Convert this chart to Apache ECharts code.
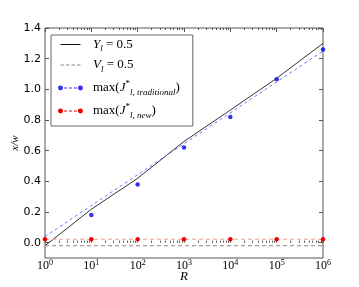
<!DOCTYPE html>
<html><head><meta charset="utf-8">
<script src="https://cdn.jsdelivr.net/npm/echarts@6/dist/echarts.min.js"></script>
<style>html,body{margin:0;padding:0;background:#fff}#c{width:359px;height:287px}</style>
</head><body><div id="c"></div>
<script>
// ---- data ----
const R = [1, 10, 100, 1000, 10000, 100000, 1000000];
const yl05 = [-0.02, 0.218, 0.42, 0.66, 0.865, 1.072, 1.30];
const vlR = [1, 1000000];
const vl05 = [-0.02, -0.02];
const jTradPts = [null, 0.18, 0.38, 0.62, 0.82, 1.066, 1.26];
const jTradFitR = [1, 1000000];
const jTradFit = [0.04, 1.25];
const jNew = [0.022, 0.022, 0.022, 0.022, 0.022, 0.022, 0.022];
const yTicks = [0, 0.2, 0.4, 0.6, 0.8, 1.0, 1.2, 1.4];
const xMajor = [1, 10, 100, 1000, 10000, 100000, 1000000];
const xMinor = [];
for (let d = 0; d < 6; d++) for (let k = 2; k <= 9; k++) xMinor.push(k * Math.pow(10, d));

const pair = (xs, ys) => xs.map((x, i) => [x, ys[i]]).filter(p => p[1] !== null);
const SERIF = 'Liberation Serif, DejaVu Serif, serif';
const SANS = 'DejaVu Sans, sans-serif';
const FR = 'M0,0h0.01v0.01h-0.01zM25,6h0.01v0.01h-0.01z';
const ICON_SOLID = 'path://' + FR + 'M2.5,2.5H22.5V3.5H2.5Z';
const ICON_DASH = 'path://' + FR + 'M2.5,2.5h3.5v1h-3.5zM8,2.5h3.5v1h-3.5zM13.5,2.5h3.5v1h-3.5zM19,2.5h3.5v1h-3.5z';
const ICON_MK = 'path://' + FR + 'M0,3a2.5,2.5 0 1,0 5,0a2.5,2.5 0 1,0 -5,0zM20,3a2.5,2.5 0 1,0 5,0a2.5,2.5 0 1,0 -5,0zM6,2.5h3v1h-3zM11,2.5h3v1h-3zM16,2.5h3v1h-3z';

const chart = echarts.init(document.getElementById('c'), null, {renderer: 'canvas'});
const minorX = (pos) => ({
  type: 'log', logBase: 10, min: 1, max: 1000000, position: pos, gridIndex: 0,
  axisLine: {show: false}, axisLabel: {show: false}, splitLine: {show: false},
  axisTick: {show: true, inside: true, length: 2, customValues: xMinor, lineStyle: {color: '#555', width: 1}}
});
const majorX = (pos, labels) => ({
  type: 'log', logBase: 10, min: 1, max: 1000000, position: pos, gridIndex: 0,
  name: labels ? 'R' : '', nameLocation: 'middle', nameGap: 12, nameMoveOverlap: false,
  nameTextStyle: {fontFamily: SERIF, fontStyle: 'italic', fontSize: 13, color: '#000'},
  axisLine: {show: false}, splitLine: {show: false},
  axisTick: {show: true, inside: true, length: 4, customValues: xMajor, lineStyle: {color: '#555', width: 1}},
  axisLabel: labels ? {
    show: true, margin: 1, customValues: xMajor,
    formatter: v => '{b|10}{e|' + Math.round(Math.log10(v)) + '}',
    rich: {
      b: {fontFamily: SERIF, fontSize: 12, lineHeight: 14, color: '#000'},
      e: {fontFamily: SERIF, fontSize: 8, lineHeight: 8, verticalAlign: 'top', color: '#000'}
    }
  } : {show: false}
});
const yAx = (pos, labels) => ({
  type: 'value', min: -0.1, max: 1.4, position: pos,
  name: labels ? 'x/w' : '', nameLocation: 'middle', nameGap: 24, nameMoveOverlap: false,
  nameTextStyle: {fontFamily: SERIF, fontStyle: 'italic', fontSize: 11, color: '#000'},
  axisLine: {show: false}, splitLine: {show: false},
  axisTick: {show: true, inside: true, length: 4, customValues: yTicks, lineStyle: {color: '#555', width: 1}},
  axisLabel: labels ? {show: true, margin: 4, customValues: yTicks, formatter: v => v.toFixed(1),
    fontFamily: SANS, fontSize: 11, color: '#000'} : {show: false}
});

const richLeg = {
  p: {width: 5, fontSize: 13, lineHeight: 18},
  i: {fontFamily: SERIF, fontStyle: 'italic', fontSize: 13, lineHeight: 18, color: '#000'},
  n: {fontFamily: SERIF, fontSize: 13, lineHeight: 18, color: '#000'},
  s: {fontFamily: SERIF, fontStyle: 'italic', fontSize: 9, lineHeight: 10, verticalAlign: 'bottom', color: '#000'},
  u: {fontFamily: SERIF, fontSize: 9, lineHeight: 10, verticalAlign: 'top', color: '#000'}
};
const legText = {
  'Y': '{p| }{i|Y}{s|l}{n| = 0.5}',
  'V': '{p| }{i|V}{s|l}{n| = 0.5}',
  'Jt': '{p| }{n|max(}{i|J}{u|*}{s|l, traditional}{n|)}',
  'Jn': '{p| }{n|max(}{i|J}{u|*}{s|l, new}{n|)}'
};

chart.setOption({
  animation: false,
  backgroundColor: '#fff',
  grid: {left: 45, top: 28, width: 278, height: 230, outerBoundsMode: 'none', containLabel: false,
    show: true, borderColor: '#555', borderWidth: 1, backgroundColor: 'transparent'},
  xAxis: [majorX('bottom', true), minorX('bottom'), majorX('top', false), minorX('top')],
  yAxis: [yAx('left', true), yAx('right', false)],
  legend: {
    left: 51, top: 35, orient: 'vertical', itemWidth: 25, itemHeight: 6, itemGap: 5,
    padding: [3, 13, 6, 7], borderColor: '#666', borderWidth: 1, backgroundColor: '#fff',
    selectedMode: false, symbolKeepAspect: true,
    data: [
      {name: 'Y', icon: ICON_SOLID},
      {name: 'V', icon: ICON_DASH},
      {name: 'Jt', icon: ICON_MK},
      {name: 'Jn', icon: ICON_MK}
    ],
    formatter: n => legText[n],
    textStyle: {rich: richLeg}
  },
  series: [
    {name: 'Y', type: 'line', xAxisIndex: 0, yAxisIndex: 0, data: pair(R, yl05), showSymbol: false, symbol: 'none',
      color: '#111', lineStyle: {color: '#333', width: 1}},
    {name: 'V', type: 'line', data: pair(vlR, vl05), symbol: 'none', color: '#888',
      lineStyle: {color: '#888', width: 1, type: [4, 3]}},
    {name: 'fit', type: 'line', data: pair(jTradFitR, jTradFit), symbol: 'none',
      lineStyle: {color: '#7070ff', width: 1, type: [3, 3]}},
    {name: 'Jt', type: 'scatter', data: pair(R, jTradPts), symbol: 'circle', symbolSize: 4.5, color: '#0000ee',
      itemStyle: {color: '#0000ee'}},
    {name: 'Jn', type: 'line', data: pair(R, jNew), symbol: 'circle', symbolSize: 4.5, showSymbol: true, color: '#ee0000',
      itemStyle: {color: '#ee0000'}, lineStyle: {color: '#ff9c9c', width: 1, type: [4, 3]}}
  ]
});
</script>
</body></html>
